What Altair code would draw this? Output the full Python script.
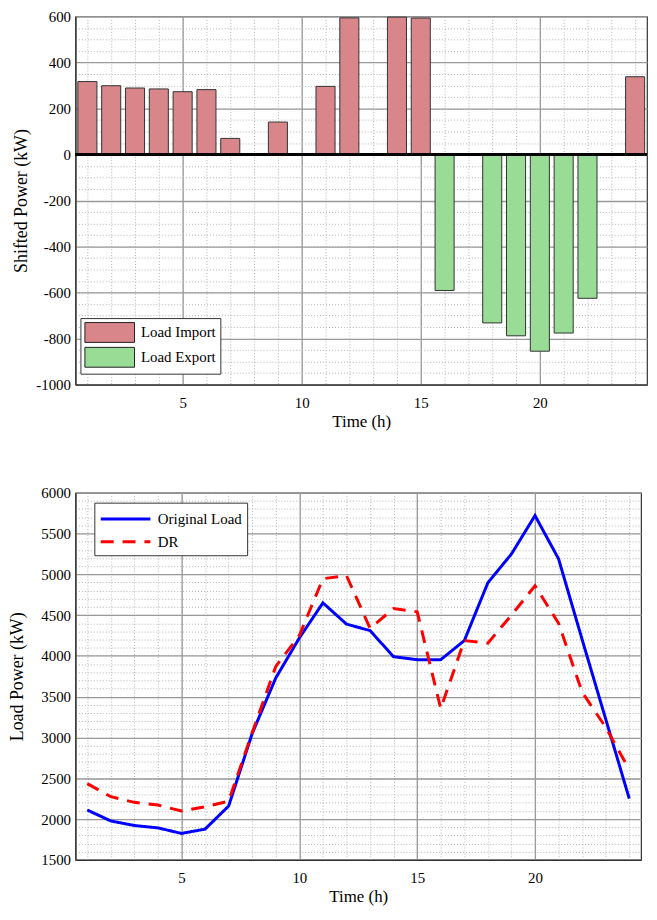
import altair as alt
import pandas as pd
import numpy as np

FONT = "Liberation Serif"

hours = list(range(1, 25))
# Shifted power per hour (kW); 0 = no bar
shifted_power = [317, 299, 289, 285, 273, 282, 70, 0, 141, 0, 296, 594,
                 0, 597, 593, -591, 0, -732, -788, -855, -776, -625, 0, 338]
bar_kinds = ["Load Import", "Load Export"]
bar_colors = ["#d8868a", "#98dc96"]

original_load = [2111, 1977, 1921, 1892, 1824, 1877, 2160, 3050, 3730, 4220, 4650, 4390,
                 4310, 3990, 3954, 3954, 4188, 4897, 5249, 5720, 5189, 4200, 3225, 2250]
dr_load = [2435, 2274, 2205, 2172, 2099, 2150, 2220, 3060, 3872, 4250, 4946, 4985,
           4338, 4581, 4540, 3355, 4188, 4156, 4500, 4860, 4400, 3556, 3124, 2609]
series_names = ["Original Load", "DR"]
series_colors = ["#0000ff", "#ff0000"]

x_major = [5, 10, 15, 20]
x_minor = hours
top_y_major = list(range(-1000, 601, 200))
top_y_minor = list(range(-1000, 601, 50))
bot_y_major = list(range(1500, 6001, 500))
bot_y_minor = list(range(1500, 6001, 100))

# ---------- data tables ----------
df_bar = pd.DataFrame({"hour": hours, "value": shifted_power})
df_bar = df_bar[df_bar["value"] != 0].copy()
df_bar["kind"] = np.where(df_bar["value"] > 0, bar_kinds[0], bar_kinds[1])
df_bar["x0"] = df_bar["hour"] - 0.4
df_bar["x1"] = df_bar["hour"] + 0.4

df_line = pd.concat([
    pd.DataFrame({"hour": hours, "value": original_load, "series": series_names[0]}),
    pd.DataFrame({"hour": hours, "value": dr_load, "series": series_names[1]}),
])

xscale = alt.Scale(domain=[0.5, 24.5], nice=False, zero=False)
top_yscale = alt.Scale(domain=[-1000, 600], nice=False)
bot_yscale = alt.Scale(domain=[1500, 6000], nice=False, zero=False)

MINOR_COLOR = "#b4b4b4"
MAJOR_COLOR = "#9a9a9a"
LABEL_EXPR = "'' + datum.value"


def minor_axis(orient, values):
    return alt.Axis(orient=orient, values=values, grid=True, gridColor=MINOR_COLOR,
                    gridDash=[1, 2], gridWidth=1, labels=False, ticks=False,
                    domain=False, title=None)


def major_x_axis():
    return alt.Axis(orient="bottom", values=x_major, grid=True, gridColor=MAJOR_COLOR,
                    gridWidth=1.3, ticks=False, domain=True, domainColor="#333333",
                    domainWidth=1.2, labelFontSize=15, labelPadding=11, labelColor="black",
                    labelExpr=LABEL_EXPR,
                    title="Time (h)", titleFontSize=17, titleFontWeight="normal",
                    titlePadding=3, titleColor="black")


def major_y_axis(values, title, title_pad):
    return alt.Axis(orient="left", values=values, grid=True, gridColor=MAJOR_COLOR,
                    gridWidth=1.3, ticks=False, domain=True, domainColor="#333333",
                    domainWidth=1.2, labelFontSize=15, labelPadding=5, labelColor="black",
                    labelExpr=LABEL_EXPR,
                    title=title, titleFontSize=18, titleFontWeight="normal",
                    titlePadding=title_pad, titleColor="black")


# ---------- top chart: shifted power bars ----------
top_minor = alt.Chart(df_bar).mark_bar(opacity=0).encode(
    x=alt.X("x0:Q", scale=xscale, axis=minor_axis("bottom", x_minor)),
    x2="x1:Q",
    y=alt.Y("value:Q", scale=top_yscale, axis=minor_axis("left", top_y_minor)),
    y2=alt.Y2(datum=0),
)

bar_legend = alt.Legend(orient="none", legendX=5, legendY=304, title=None,
                        fillColor="white", strokeColor="#333333", padding=4,
                        labelFontSize=15, labelColor="black",
                        symbolOffset=15, labelOffset=21,
                        symbolType="M-2.5,-1H2.5V1H-2.5Z", symbolSize=400,
                        symbolStrokeColor="#222222", symbolStrokeWidth=1,
                        symbolOpacity=1, rowPadding=0)

top_bars = alt.Chart(df_bar).mark_bar(stroke="#333333", strokeWidth=1, opacity=1).encode(
    x=alt.X("x0:Q", scale=xscale, axis=major_x_axis()),
    x2="x1:Q",
    y=alt.Y("value:Q", scale=top_yscale,
            axis=major_y_axis(top_y_major, "Shifted Power (kW)", 5)),
    y2=alt.Y2(datum=0),
    color=alt.Color("kind:N", scale=alt.Scale(domain=bar_kinds, range=bar_colors),
                    legend=bar_legend),
)

zero_rule = alt.Chart(df_bar).mark_rule(color="black", strokeWidth=2).encode(
    y=alt.Y(datum=0, scale=top_yscale, axis=None),
)

top = alt.layer(top_minor, top_bars, zero_rule).resolve_axis(
    x="independent", y="independent"
).properties(width=576, height=371)

# ---------- bottom chart: load curves ----------
bot_minor = alt.Chart(df_line).mark_line(opacity=0).encode(
    x=alt.X("hour:Q", scale=xscale, axis=minor_axis("bottom", x_minor)),
    y=alt.Y("value:Q", scale=bot_yscale, axis=minor_axis("left", bot_y_minor)),
    detail="series:N",
)

line_legend = alt.Legend(orient="none", legendX=19, legendY=10, title=None,
                         fillColor="white", strokeColor="#333333", padding=5,
                         labelFontSize=15, labelColor="black",
                         symbolOffset=15, labelOffset=21,
                         symbolType="M-2.5,0H2.5", symbolSize=400, symbolStrokeWidth=3,
                         rowPadding=3)

bot_lines = alt.Chart(df_line).mark_line(strokeWidth=3).encode(
    x=alt.X("hour:Q", scale=xscale, axis=major_x_axis()),
    y=alt.Y("value:Q", scale=bot_yscale,
            axis=major_y_axis(bot_y_major, "Load Power (kW)", 14)),
    color=alt.Color("series:N", scale=alt.Scale(domain=series_names, range=series_colors),
                    legend=line_legend),
    strokeDash=alt.StrokeDash("series:N",
                              scale=alt.Scale(domain=series_names, range=[[1, 0], [13, 9]]),
                              legend=line_legend),
)

bottom = alt.layer(bot_minor, bot_lines).resolve_axis(
    x="independent", y="independent"
).properties(width=570, height=370)

chart = alt.vconcat(top, bottom, spacing=55).resolve_scale(
    color="independent", strokeDash="independent"
).resolve_legend(
    color="independent", strokeDash="independent"
).properties(
    padding={"left": 0, "top": -3, "right": 0, "bottom": 0}
).configure_view(
    stroke="#333333", strokeWidth=1.2
).configure_axis(
    labelFont=FONT, titleFont=FONT
).configure_legend(
    labelFont=FONT
)

chart.save("out.html", embed_options={"renderer": "svg", "actions": False})
